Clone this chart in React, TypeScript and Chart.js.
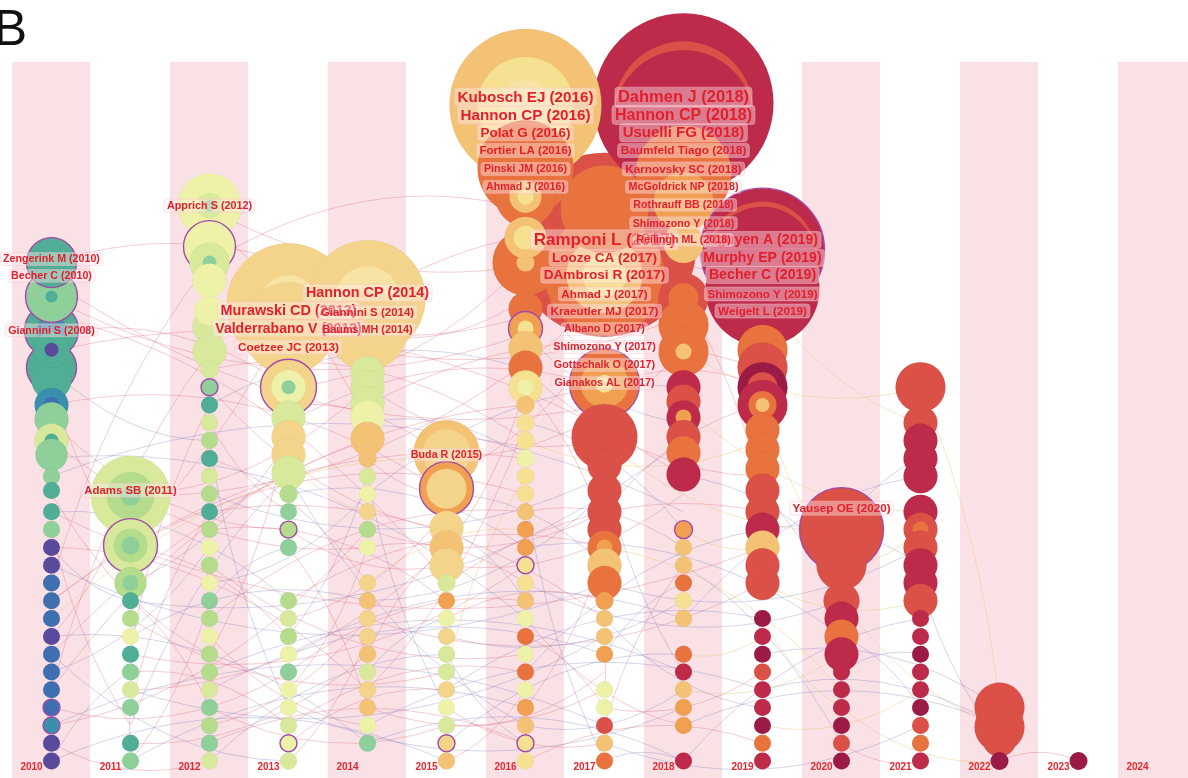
import React, { useEffect, useRef } from 'react';
import { Chart, registerables } from 'chart.js';

Chart.register(...registerables);

// ---------- data ----------
const years = [2010, 2011, 2012, 2013, 2014, 2015, 2016, 2017, 2018, 2019, 2020, 2021, 2022, 2023, 2024];
const yearTickLabels = years.map(String);
const bandYears = [2010, 2012, 2014, 2016, 2018, 2020, 2022, 2024];

const palette: Record<string, string> = {
  P: '#5a4a9c', B: '#3f6eb1', T: '#3a8fae', G: '#4fae95', g: '#8ecf9a', l: '#b5dc8c',
  y: '#d8e99c', w: '#eef2a8', Y: '#f6e092', k: '#f7e4a4', K: '#f4d48a', o: '#f3c274',
  O: '#f0a050', R: '#e8733f', r: '#db5148', C: '#bd2a4a', D: '#9c1a46',
};

type Node = { row: number; r: number; c: string; ring?: boolean; inner?: [number, string][] };

const nodes2010: Node[] = [
  { row: 28, r: 25, c: 'G', ring: true },
  { row: 26.1, r: 26, c: 'g', ring: true, inner: [[6, 'G']] },
  { row: 24.2, r: 27, c: 'G', ring: true, inner: [[15, 'T']] },
  { row: 23.1, r: 18, c: 'G', inner: [[7, 'P']] },
  { row: 22.1, r: 25, c: 'G', ring: true },
  { row: 21.4, r: 20, c: 'G' },
  { row: 20, r: 17, c: 'T', inner: [[8, 'B']] },
  { row: 19.2, r: 17, c: 'g' },
  { row: 18, r: 17, c: 'y', inner: [[7, 'G']] },
  { row: 17.2, r: 16, c: 'g' },
  { row: 16, r: 8.5, c: 'g' }, { row: 15.2, r: 8.5, c: 'G' }, { row: 14, r: 8.5, c: 'G' },
  { row: 13, r: 8.5, c: 'g' }, { row: 12, r: 8.5, c: 'P' }, { row: 11, r: 8.5, c: 'P' },
  { row: 10, r: 8.5, c: 'B' }, { row: 9, r: 8.5, c: 'B' }, { row: 8, r: 8.5, c: 'B' },
  { row: 7, r: 8.5, c: 'P' }, { row: 6, r: 8.5, c: 'B' }, { row: 5, r: 8.5, c: 'B' },
  { row: 4, r: 8.5, c: 'B' }, { row: 3, r: 8.5, c: 'B', ring: true }, { row: 2, r: 8.5, c: 'T', ring: true },
  { row: 1, r: 8.5, c: 'P' }, { row: 0, r: 8.5, c: 'P' },
];

const nodes2011: Node[] = [
  { row: 14.9, r: 40, c: 'y', inner: [[24, 'l'], [10, 'g']] },
  { row: 12.1, r: 27, c: 'y', ring: true, inner: [[17, 'l'], [9, 'g']] },
  { row: 10, r: 16, c: 'l', inner: [[8, 'g']] },
  { row: 9, r: 8.5, c: 'G' }, { row: 8, r: 8.5, c: 'l' }, { row: 7, r: 8.5, c: 'w' },
  { row: 6, r: 8.5, c: 'G' }, { row: 5, r: 8.5, c: 'g' }, { row: 4, r: 8.5, c: 'y' },
  { row: 3, r: 8.5, c: 'g' }, { row: 1, r: 8.5, c: 'G' }, { row: 0, r: 8.5, c: 'g' },
];

const nodes2012: Node[] = [
  { row: 31.2, r: 32, c: 'w', inner: [[13, 'y'], [6, 'g']] },
  { row: 28.9, r: 26, c: 'w', ring: true },
  { row: 28, r: 20, c: 'y', inner: [[7, 'g']] },
  { row: 27, r: 17, c: 'w' }, { row: 25.3, r: 15, c: 'w' }, { row: 24.4, r: 17, c: 'y' },
  { row: 23, r: 17, c: 'y' }, { row: 22, r: 9, c: 'y' }, { row: 21, r: 8.5, c: 'g', ring: true },
  { row: 20, r: 8.5, c: 'G' }, { row: 19, r: 8.5, c: 'y' }, { row: 18, r: 8.5, c: 'l' },
  { row: 17, r: 8.5, c: 'G' }, { row: 16, r: 8.5, c: 'y' }, { row: 15, r: 8.5, c: 'l' },
  { row: 14, r: 8.5, c: 'G' }, { row: 13, r: 8.5, c: 'l' }, { row: 12, r: 8.5, c: 'w' },
  { row: 11, r: 8.5, c: 'l' }, { row: 10, r: 8.5, c: 'w' }, { row: 9, r: 8.5, c: 'g' },
  { row: 8, r: 8.5, c: 'l' }, { row: 7, r: 8.5, c: 'w' }, { row: 6, r: 8.5, c: 'l' },
  { row: 5, r: 8.5, c: 'l' }, { row: 4, r: 8.5, c: 'y' }, { row: 3, r: 8.5, c: 'g' },
  { row: 2, r: 8.5, c: 'l' }, { row: 1, r: 8.5, c: 'g' }, { row: 0, r: 8.5, c: 'y' },
];

const nodes2013: Node[] = [
  { row: 25.6, r: 62, c: 'K', inner: [[30, 'k']] },
  { row: 24.3, r: 46, c: 'K' },
  { row: 21, r: 28, c: 'K', ring: true, inner: [[17, 'w'], [7, 'g']] },
  { row: 19.3, r: 17, c: 'y' }, { row: 18.2, r: 17, c: 'K' }, { row: 17.2, r: 17, c: 'K' },
  { row: 16.2, r: 17, c: 'y' }, { row: 15, r: 9, c: 'l' }, { row: 14, r: 8.5, c: 'g' },
  { row: 13, r: 8.5, c: 'l', ring: true }, { row: 12, r: 8.5, c: 'g' },
  { row: 9, r: 8.5, c: 'l' }, { row: 8, r: 8.5, c: 'y' }, { row: 7, r: 8.5, c: 'l' },
  { row: 6, r: 8.5, c: 'w' }, { row: 5, r: 8.5, c: 'g' }, { row: 4, r: 8.5, c: 'w' },
  { row: 3, r: 8.5, c: 'w' }, { row: 2, r: 8.5, c: 'y' }, { row: 1, r: 8.5, c: 'w', ring: true },
  { row: 0, r: 8.5, c: 'y' },
];

const nodes2014: Node[] = [
  { row: 26, r: 58, c: 'K', inner: [[32, 'k']] },
  { row: 24.2, r: 40, c: 'K' },
  { row: 21.8, r: 17, c: 'y' }, { row: 21, r: 17, c: 'y' }, { row: 20.1, r: 17, c: 'y' },
  { row: 19.3, r: 17, c: 'w' }, { row: 18.1, r: 17, c: 'o' }, { row: 17, r: 9, c: 'o' },
  { row: 16, r: 8.5, c: 'y' }, { row: 15, r: 8.5, c: 'w' }, { row: 14, r: 8.5, c: 'K' },
  { row: 13, r: 8.5, c: 'l' }, { row: 12, r: 8.5, c: 'w' }, { row: 10, r: 8.5, c: 'K' },
  { row: 9, r: 8.5, c: 'o' }, { row: 8, r: 8.5, c: 'K' }, { row: 7, r: 8.5, c: 'K' },
  { row: 6, r: 8.5, c: 'o' }, { row: 5, r: 8.5, c: 'y' }, { row: 4, r: 8.5, c: 'K' },
  { row: 3, r: 8.5, c: 'o' }, { row: 2, r: 8.5, c: 'w' }, { row: 1, r: 8.5, c: 'g' },
];

const nodes2015: Node[] = [
  { row: 17.3, r: 33, c: 'o', inner: [[24, 'K']] },
  { row: 15.3, r: 27, c: 'O', ring: true, inner: [[20, 'K']] },
  { row: 13.1, r: 17, c: 'K' }, { row: 12, r: 17, c: 'o' }, { row: 11, r: 17, c: 'K' },
  { row: 10, r: 9, c: 'y' }, { row: 9, r: 8.5, c: 'O' }, { row: 8, r: 8.5, c: 'w' },
  { row: 7, r: 8.5, c: 'K' }, { row: 6, r: 8.5, c: 'y' }, { row: 5, r: 8.5, c: 'y' },
  { row: 4, r: 8.5, c: 'K' }, { row: 3, r: 8.5, c: 'w' }, { row: 2, r: 8.5, c: 'y' },
  { row: 1, r: 8.5, c: 'K', ring: true }, { row: 0, r: 8.5, c: 'o' },
];

const nodes2016: Node[] = [
  { row: 36.85, r: 76, c: 'o', inner: [[48, 'Y'], [26, 'k']] },
  { row: 33.3, r: 48, c: 'R' },
  { row: 31.7, r: 30, c: 'R', inner: [[16, 'o'], [8, 'Y']] },
  { row: 29.4, r: 21, c: 'o', inner: [[12, 'Y']] },
  { row: 28, r: 33, c: 'R', inner: [[9, 'o']] },
  { row: 25.4, r: 17, c: 'R' },
  { row: 24.3, r: 17, c: 'O', ring: true, inner: [[8, 'Y']] },
  { row: 23.2, r: 17, c: 'o' }, { row: 22.1, r: 17, c: 'R' },
  { row: 21, r: 17, c: 'Y', inner: [[8, 'w']] },
  { row: 20, r: 9, c: 'o' }, { row: 19, r: 9, c: 'Y' }, { row: 18, r: 9, c: 'Y' },
  { row: 17, r: 9, c: 'w' }, { row: 16, r: 8.5, c: 'Y' }, { row: 15, r: 8.5, c: 'Y' },
  { row: 14, r: 8.5, c: 'o' }, { row: 13, r: 8.5, c: 'O' }, { row: 12, r: 8.5, c: 'O' },
  { row: 11, r: 8.5, c: 'Y', ring: true }, { row: 10, r: 8.5, c: 'Y' }, { row: 9, r: 8.5, c: 'o' },
  { row: 8, r: 8.5, c: 'w' }, { row: 7, r: 8.5, c: 'R' }, { row: 6, r: 8.5, c: 'w' },
  { row: 5, r: 8.5, c: 'R' }, { row: 4, r: 8.5, c: 'w' }, { row: 3, r: 8.5, c: 'O' },
  { row: 2, r: 8.5, c: 'o' }, { row: 1, r: 8.5, c: 'Y', ring: true }, { row: 0, r: 8.5, c: 'Y' },
];

const nodes2017: Node[] = [
  { row: 29, r: 92, c: 'r' },
  { row: 31, r: 44, c: 'R' },
  { row: 27.3, r: 60, c: 'R', inner: [[38, 'o'], [22, 'Y']] },
  { row: 21.2, r: 35, c: 'R', ring: true, inner: [[24, 'O'], [9, 'Y']] },
  { row: 18.2, r: 33, c: 'r' },
  { row: 16.6, r: 17, c: 'r' }, { row: 15.2, r: 17, c: 'r' }, { row: 14, r: 17, c: 'r' },
  { row: 13, r: 17, c: 'r' }, { row: 12, r: 17, c: 'R', inner: [[8, 'O']] },
  { row: 11, r: 17, c: 'o' }, { row: 10, r: 17, c: 'R' },
  { row: 9, r: 9, c: 'O' }, { row: 8, r: 8.5, c: 'o' }, { row: 7, r: 8.5, c: 'o' },
  { row: 6, r: 8.5, c: 'O' }, { row: 4, r: 8.5, c: 'w' }, { row: 3, r: 8.5, c: 'w' },
  { row: 2, r: 8.5, c: 'r' }, { row: 1, r: 8.5, c: 'o' }, { row: 0, r: 8.5, c: 'R' },
];

const nodes2018: Node[] = [
  { row: 36.95, r: 90, c: 'C' },
  { row: 36.5, r: 70, c: 'r' },
  { row: 36.0, r: 70, c: 'C' },
  { row: 33, r: 48, c: 'R' },
  { row: 31.4, r: 30, c: 'O' },
  { row: 29.1, r: 20, c: 'o' },
  { row: 26, r: 25, c: 'r', inner: [[15, 'R']] },
  { row: 24.5, r: 25, c: 'R' },
  { row: 23, r: 25, c: 'R', inner: [[8, 'o']] },
  { row: 21, r: 17, c: 'C' }, { row: 20.2, r: 17, c: 'r' },
  { row: 19.3, r: 17, c: 'C', inner: [[8, 'O']] },
  { row: 18.2, r: 17, c: 'r' }, { row: 17.3, r: 17, c: 'R' }, { row: 16.1, r: 17, c: 'C' },
  { row: 13, r: 9, c: 'O', ring: true }, { row: 12, r: 8.5, c: 'o' }, { row: 11, r: 8.5, c: 'o' },
  { row: 10, r: 8.5, c: 'R' }, { row: 9, r: 8.5, c: 'Y' }, { row: 8, r: 8.5, c: 'o' },
  { row: 6, r: 8.5, c: 'R' }, { row: 5, r: 8.5, c: 'C' }, { row: 4, r: 8.5, c: 'o' },
  { row: 3, r: 8.5, c: 'O' }, { row: 2, r: 8.5, c: 'O' }, { row: 0, r: 8.5, c: 'C' },
];

const nodes2019: Node[] = [
  { row: 28.7, r: 62, c: 'C', ring: true },
  { row: 28.4, r: 54, c: 'r' },
  { row: 28.1, r: 54, c: 'C' },
  { row: 26.5, r: 57, c: 'C' },
  { row: 23.1, r: 25, c: 'R' },
  { row: 22.1, r: 25, c: 'r' },
  { row: 21, r: 25, c: 'D', inner: [[15, 'r']] },
  { row: 20, r: 25, c: 'C', inner: [[14, 'R'], [7, 'o']] },
  { row: 18.6, r: 17, c: 'R' }, { row: 17.5, r: 17, c: 'R' }, { row: 16.4, r: 17, c: 'R' },
  { row: 15.2, r: 17, c: 'r' }, { row: 14, r: 17, c: 'r' }, { row: 13, r: 17, c: 'C' },
  { row: 12, r: 17, c: 'o' }, { row: 11, r: 17, c: 'r' }, { row: 10, r: 17, c: 'r' },
  { row: 8, r: 8.5, c: 'D' }, { row: 7, r: 8.5, c: 'C' }, { row: 6, r: 8.5, c: 'D' },
  { row: 5, r: 8.5, c: 'r' }, { row: 4, r: 8.5, c: 'C' }, { row: 3, r: 8.5, c: 'C' },
  { row: 2, r: 8.5, c: 'D' }, { row: 1, r: 8.5, c: 'R' }, { row: 0, r: 8.5, c: 'C' },
];

const nodes2020: Node[] = [
  { row: 13, r: 42, c: 'r', ring: true, inner: [[26, 'r']] },
  { row: 11, r: 25, c: 'r' },
  { row: 9, r: 18, c: 'r' }, { row: 8, r: 17, c: 'C' }, { row: 7, r: 17, c: 'R' },
  { row: 6, r: 17, c: 'C' }, { row: 5, r: 8.5, c: 'C' }, { row: 4, r: 8.5, c: 'C' },
  { row: 3, r: 8.5, c: 'C' }, { row: 2, r: 8.5, c: 'D' }, { row: 1, r: 8.5, c: 'r' },
  { row: 0, r: 8.5, c: 'D' },
];

const nodes2021: Node[] = [
  { row: 21, r: 25, c: 'r' },
  { row: 19, r: 17, c: 'r' }, { row: 18, r: 17, c: 'C' }, { row: 17, r: 17, c: 'C' },
  { row: 16, r: 17, c: 'C' }, { row: 14, r: 17, c: 'C' },
  { row: 13, r: 17, c: 'r', inner: [[8, 'R']] }, { row: 12, r: 17, c: 'r' },
  { row: 11, r: 17, c: 'C' }, { row: 10, r: 17, c: 'C' }, { row: 9, r: 17, c: 'r' },
  { row: 8, r: 8.5, c: 'C' }, { row: 7, r: 8.5, c: 'C' }, { row: 6, r: 8.5, c: 'D' },
  { row: 5, r: 8.5, c: 'C' }, { row: 4, r: 8.5, c: 'C' }, { row: 3, r: 8.5, c: 'D' },
  { row: 2, r: 8.5, c: 'r' }, { row: 1, r: 8.5, c: 'R' }, { row: 0, r: 8.5, c: 'C' },
];

const nodes2022: Node[] = [
  { row: 3, r: 25, c: 'r' }, { row: 1.9, r: 25, c: 'r' }, { row: 1.2, r: 17, c: 'r' },
  { row: 0, r: 9, c: 'D' },
];

const nodes2023: Node[] = [{ row: 0, r: 9, c: 'D' }];

const nodesByYear: [number, Node[]][] = [
  [2010, nodes2010], [2011, nodes2011], [2012, nodes2012], [2013, nodes2013],
  [2014, nodes2014], [2015, nodes2015], [2016, nodes2016], [2017, nodes2017],
  [2018, nodes2018], [2019, nodes2019], [2020, nodes2020], [2021, nodes2021],
  [2022, nodes2022], [2023, nodes2023],
];

// label: [text, year, row, fontSize]
type Label = [string, number, number, number];
const labels2010: Label[] = [
  ['Zengerink M (2010)', 2010, 28.2, 10.7],
  ['Becher C (2010)', 2010, 27.25, 10.7],
  ['Giannini S (2008)', 2010, 24.2, 10.7],
];
const labels2011: Label[] = [['Adams SB (2011)', 2011, 15.2, 11.4]];
const labels2012: Label[] = [['Apprich S (2012)', 2012, 31.2, 10.8]];
const labels2013: Label[] = [
  ['Murawski CD (2013)', 2013, 25.3, 14.4],
  ['Valderrabano V (2013)', 2013, 24.3, 14],
  ['Coetzee JC (2013)', 2013, 23.25, 11.8],
];
const labels2014: Label[] = [
  ['Hannon CP (2014)', 2014, 26.3, 14.4],
  ['Giannini S (2014)', 2014, 25.2, 11.5],
  ['Baums MH (2014)', 2014, 24.25, 10.8],
];
const labels2015: Label[] = [['Buda R (2015)', 2015, 17.2, 10.7]];
const labels2016: Label[] = [
  ['Kubosch EJ (2016)', 2016, 37.3, 15.2],
  ['Hannon CP (2016)', 2016, 36.3, 15.2],
  ['Polat G (2016)', 2016, 35.3, 13.5],
  ['Fortier LA (2016)', 2016, 34.3, 11.6],
  ['Pinski JM (2016)', 2016, 33.26, 10.7],
  ['Ahmad J (2016)', 2016, 32.25, 10.7],
];
const labels2017: Label[] = [
  ['Ramponi L (2017)', 2017, 29.27, 17],
  ['Looze CA (2017)', 2017, 28.26, 13.5],
  ['DAmbrosi R (2017)', 2017, 27.3, 13.6],
  ['Ahmad J (2017)', 2017, 26.24, 11.7],
  ['Kraeutler MJ (2017)', 2017, 25.28, 11.7],
  ['Albano D (2017)', 2017, 24.27, 10.7],
  ['Shimozono Y (2017)', 2017, 23.26, 10.8],
  ['Gottschalk O (2017)', 2017, 22.25, 10.8],
  ['Gianakos AL (2017)', 2017, 21.24, 10.8],
];
const labels2019: Label[] = [
  ['Nguyen A (2019)', 2019, 29.27, 14.2],
  ['Murphy EP (2019)', 2019, 28.26, 14.1],
  ['Becher C (2019)', 2019, 27.3, 14.2],
  ['Shimozono Y (2019)', 2019, 26.24, 11.6],
  ['Weigelt L (2019)', 2019, 25.28, 11.7],
];
const labels2020: Label[] = [['Yausep OE (2020)', 2020, 14.2, 11.7]];
const labels2018: Label[] = [
  ['Dahmen J (2018)', 2018, 37.3, 16.5],
  ['Hannon CP (2018)', 2018, 36.3, 16],
  ['Usuelli FG (2018)', 2018, 35.3, 15],
  ['Baumfeld Tiago (2018)', 2018, 34.3, 11.8],
  ['Karnovsky SC (2018)', 2018, 33.26, 11.7],
  ['McGoldrick NP (2018)', 2018, 32.25, 10.7],
  ['Rothrauff BB (2018)', 2018, 31.24, 10.7],
  ['Shimozono Y (2018)', 2018, 30.22, 10.7],
  ['Reilingh ML (2018)', 2018, 29.27, 10.7],
];
const allLabels: Label[] = [
  ...labels2010, ...labels2011, ...labels2012, ...labels2013, ...labels2014, ...labels2015,
  ...labels2016, ...labels2017, ...labels2019, ...labels2020, ...labels2018,
];

// links: [fromYear, fromRow, toYear, toRow, colourKey]
type Link = [number, number, number, number, string];
const links: Link[] = [
  [2010, 28, 2014, 26, 'p'], [2010, 26, 2016, 24, 'p'], [2010, 24, 2013, 21, 'p'], [2010, 22, 2012, 18, 'b'],
  [2010, 20, 2015, 15, 'p'], [2010, 18, 2014, 12, 'p'], [2010, 17, 2016, 8, 'b'], [2010, 15, 2012, 6, 'p'],
  [2010, 14, 2013, 9, 'b'], [2010, 13, 2011, 2, 'p'], [2010, 12, 2014, 4, 'p'], [2010, 11, 2017, 10, 'b'],
  [2010, 10, 2012, 28, 'p'], [2010, 9, 2013, 25, 'p'], [2010, 8, 2015, 17, 'y'], [2010, 7, 2011, 15, 'p'],
  [2010, 6, 2016, 20, 'p'], [2010, 5, 2012, 12, 'b'], [2010, 4, 2014, 18, 'p'], [2010, 3, 2013, 5, 'p'],
  [2010, 2, 2017, 2, 'b'], [2010, 1, 2012, 0, 'p'], [2010, 0, 2015, 0, 'b'], [2010, 21, 2011, 12, 'p'],
  [2010, 23, 2018, 16, 'p'], [2011, 15, 2014, 21, 'p'], [2011, 12, 2016, 15, 'p'], [2011, 10, 2013, 18, 'b'],
  [2011, 9, 2012, 3, 'p'], [2011, 8, 2015, 5, 'p'], [2011, 7, 2014, 9, 'b'], [2011, 6, 2016, 11, 'p'],
  [2011, 5, 2013, 2, 'p'], [2011, 4, 2017, 7, 'b'], [2011, 3, 2012, 14, 'p'], [2011, 1, 2014, 6, 'p'],
  [2011, 0, 2016, 3, 'b'], [2012, 31, 2017, 29, 'p'], [2012, 28, 2016, 31, 'p'], [2012, 25, 2014, 24, 'p'],
  [2012, 23, 2013, 25, 'y'], [2012, 21, 2015, 13, 'p'], [2012, 20, 2016, 22, 'b'], [2012, 19, 2013, 14, 'p'],
  [2012, 17, 2014, 10, 'p'], [2012, 15, 2017, 16, 'b'], [2012, 13, 2015, 9, 'p'], [2012, 11, 2016, 6, 'p'],
  [2012, 9, 2013, 12, 'b'], [2012, 7, 2014, 2, 'p'], [2012, 5, 2018, 5, 'b'], [2012, 3, 2015, 2, 'p'],
  [2012, 1, 2016, 1, 'p'], [2013, 21, 2016, 28, 'p'], [2013, 19, 2017, 21, 'p'], [2013, 17, 2014, 14, 'y'],
  [2013, 15, 2016, 12, 'b'], [2013, 13, 2015, 11, 'p'], [2013, 9, 2017, 12, 'p'], [2013, 7, 2014, 16, 'b'],
  [2013, 5, 2016, 9, 'p'], [2013, 3, 2018, 3, 'b'], [2013, 1, 2015, 4, 'p'], [2013, 0, 2014, 7, 'p'],
  [2014, 26, 2018, 29, 'p'], [2014, 21, 2017, 18, 'p'], [2014, 19, 2016, 17, 'b'], [2014, 17, 2015, 15, 'p'],
  [2014, 15, 2018, 21, 'b'], [2014, 13, 2017, 14, 'p'], [2014, 10, 2016, 13, 'y'], [2014, 8, 2019, 10, 'p'],
  [2014, 5, 2015, 8, 'b'], [2014, 3, 2017, 4, 'p'], [2014, 1, 2018, 0, 'b'], [2015, 17, 2018, 23, 'p'],
  [2015, 15, 2017, 11, 'b'], [2015, 12, 2016, 21, 'p'], [2015, 10, 2019, 14, 'p'], [2015, 7, 2018, 9, 'b'],
  [2015, 5, 2016, 16, 'y'], [2015, 3, 2017, 1, 'p'], [2015, 1, 2018, 6, 'b'], [2015, 0, 2016, 4, 'p'],
  [2016, 28, 2019, 26, 'p'], [2016, 24, 2018, 19, 'b'], [2016, 21, 2017, 13, 'p'], [2016, 18, 2019, 18, 'y'],
  [2016, 14, 2018, 12, 'p'], [2016, 10, 2020, 9, 'b'], [2016, 7, 2017, 3, 'p'], [2016, 2, 2018, 4, 'b'],
  [2016, 0, 2019, 1, 'p'], [2017, 18, 2020, 13, 'y'], [2017, 14, 2019, 20, 'p'], [2017, 10, 2021, 12, 'b'],
  [2017, 6, 2018, 10, 'b'], [2017, 3, 2019, 5, 'p'], [2017, 0, 2018, 0, 'b'], [2018, 23, 2021, 21, 'y'],
  [2018, 16, 2020, 11, 'b'], [2018, 13, 2019, 12, 'y'], [2018, 8, 2021, 16, 'b'], [2018, 4, 2020, 6, 'y'],
  [2018, 2, 2022, 2, 'b'], [2019, 26, 2021, 19, 'y'], [2019, 15, 2020, 8, 'b'], [2019, 10, 2021, 9, 'y'],
  [2019, 6, 2022, 3, 'b'], [2019, 2, 2021, 4, 'y'], [2020, 13, 2021, 17, 'b'], [2020, 9, 2022, 2, 'y'],
  [2020, 5, 2021, 6, 'b'], [2020, 1, 2021, 0, 'p'], [2022, 0, 2023, 0, 'p'], [2011, 3, 2011, 1, 'p'],
  [2017, 6, 2017, 4, 'p'],
  [2010, 27, 2017, 20, 'p'], [2010, 25, 2015, 10, 'p'], [2010, 19, 2013, 13, 'p'], [2010, 16, 2018, 14, 'b'],
  [2010, 12, 2011, 9, 'b'], [2010, 9, 2016, 17, 'p'], [2010, 6, 2013, 0, 'b'], [2010, 4, 2012, 23, 'p'],
  [2010, 2, 2014, 13, 'p'], [2010, 0, 2011, 5, 'b'], [2010, 14, 2019, 12, 'p'], [2010, 7, 2014, 1, 'b'],
  [2011, 14.9, 2017, 26, 'p'], [2011, 12, 2013, 7, 'p'], [2011, 9, 2018, 18, 'b'], [2011, 6, 2012, 20, 'p'],
  [2011, 4, 2015, 12, 'p'], [2011, 2, 2013, 16, 'b'], [2011, 0, 2012, 9, 'p'], [2012, 30, 2014, 19, 'p'],
  [2012, 26, 2018, 25, 'p'], [2012, 22, 2016, 18, 'p'], [2012, 18, 2013, 3, 'b'], [2012, 14, 2017, 8, 'p'],
  [2012, 10, 2014, 15, 'b'], [2012, 8, 2016, 14, 'p'], [2012, 6, 2013, 19, 'p'], [2012, 4, 2017, 6, 'b'],
  [2012, 2, 2014, 8, 'p'], [2012, 0, 2015, 6, 'b'], [2013, 25, 2017, 27, 'p'], [2013, 20, 2015, 17, 'p'],
  [2013, 16, 2016, 2, 'b'], [2013, 12, 2014, 3, 'p'], [2013, 8, 2015, 14, 'p'], [2013, 6, 2018, 8, 'b'],
  [2013, 4, 2014, 12, 'p'], [2013, 2, 2016, 5, 'p'], [2014, 24, 2016, 26, 'p'], [2014, 20, 2019, 22, 'p'],
  [2014, 16, 2015, 3, 'b'], [2014, 12, 2016, 10, 'p'], [2014, 9, 2017, 15, 'b'], [2014, 6, 2015, 12, 'p'],
  [2014, 4, 2016, 19, 'p'], [2014, 2, 2019, 4, 'b'], [2015, 16, 2017, 24, 'p'], [2015, 13, 2016, 9, 'b'],
  [2015, 11, 2018, 15, 'p'], [2015, 8, 2017, 9, 'p'], [2015, 6, 2016, 1, 'b'], [2015, 4, 2019, 8, 'b'],
  [2015, 2, 2017, 5, 'p'], [2016, 26, 2017, 21, 'p'], [2016, 22, 2019, 16, 'p'], [2016, 19, 2018, 13, 'b'],
  [2016, 15, 2017, 0, 'b'], [2016, 12, 2020, 7, 'b'], [2016, 8, 2018, 2, 'p'], [2016, 5, 2019, 13, 'b'],
  [2016, 3, 2017, 12, 'p'], [2017, 21, 2019, 21, 'p'], [2017, 16, 2018, 5, 'b'], [2017, 12, 2020, 4, 'y'],
  [2017, 8, 2019, 3, 'b'], [2017, 2, 2018, 11, 'p'], [2017, 1, 2021, 2, 'b'], [2018, 26, 2019, 15, 'p'],
  [2018, 20, 2021, 14, 'y'], [2018, 11, 2020, 1, 'b'], [2018, 6, 2019, 7, 'y'], [2018, 0, 2021, 8, 'b'],
  [2019, 20, 2020, 11, 'y'], [2019, 13, 2021, 11, 'b'], [2019, 8, 2020, 3, 'y'], [2019, 4, 2022, 1.9, 'b'],
  [2020, 11, 2021, 13, 'y'], [2020, 7, 2021, 3, 'b'], [2020, 3, 2022, 0, 'y'], [2021, 21, 2022, 3, 'y'],
  [2021, 10, 2022, 1.2, 'b'],
];

const linkColors: Record<string, string> = {
  p: 'rgba(224,96,118,0.36)', b: 'rgba(104,112,190,0.32)', y: 'rgba(236,196,110,0.45)', g: 'rgba(110,190,150,0.35)',
};

// ---------- geometry of the layout ----------
const ROW_PX = 17.8;
const X_MIN = 2009.5;
const X_MAX = 2009.5 + 1176 / 79;
const Y_MIN = -17 / ROW_PX;
const Y_MAX = (761 - 62) / ROW_PX;

function buildPoints() {
  const flat = nodesByYear.flatMap(([yr, arr]) => arr.map((n) => ({ yr, n })));
  flat.sort((a, b) => b.n.r - a.n.r);
  const pts: { x: number; y: number; r: number }[] = [];
  const bg: string[] = [];
  const bc: string[] = [];
  const bw: number[] = [];
  for (const { yr, n } of flat) {
    pts.push({ x: yr, y: n.row, r: n.r });
    bg.push(palette[n.c]);
    bc.push(n.ring ? '#a24aa6' : 'rgba(0,0,0,0.06)');
    bw.push(n.ring ? 1.4 : 0.6);
    for (const [ir, ic] of n.inner || []) {
      pts.push({ x: yr, y: n.row, r: ir });
      bg.push(palette[ic]);
      bc.push('rgba(0,0,0,0)');
      bw.push(0);
    }
  }
  return { pts, bg, bc, bw };
}

const backgroundPlugin = {
  id: 'bgBandsLinks',
  beforeDatasetsDraw(chart: any) {
    const { ctx, chartArea, scales } = chart;
    const xs = scales.x;
    const ys = scales.y;
    ctx.save();
    ctx.fillStyle = '#f9e1e6';
    for (const yr of bandYears) {
      const x0 = xs.getPixelForValue(yr - 0.5);
      const x1 = xs.getPixelForValue(yr + 0.487);
      ctx.fillRect(x0, chartArea.top, x1 - x0, chartArea.bottom - chartArea.top);
    }
    ctx.lineWidth = 0.9;
    links.forEach(([y1, r1, y2, r2, c], i) => {
      const ax = xs.getPixelForValue(y1);
      const ay = ys.getPixelForValue(r1);
      const bx = xs.getPixelForValue(y2);
      const by = ys.getPixelForValue(r2);
      const dx = bx - ax;
      const dy = by - ay;
      const s = (i % 2 ? 1 : -1) * 0.22;
      const cx = (ax + bx) / 2 - dy * s * 0.3;
      const cy = (ay + by) / 2 + dx * s;
      ctx.strokeStyle = linkColors[c];
      ctx.beginPath();
      ctx.moveTo(ax, ay);
      ctx.quadraticCurveTo(cx, cy, bx, by);
      ctx.stroke();
    });
    ctx.restore();
  },
};

function roundRect(ctx: CanvasRenderingContext2D, x: number, y: number, w: number, h: number, r: number) {
  ctx.beginPath();
  ctx.moveTo(x + r, y);
  ctx.lineTo(x + w - r, y);
  ctx.quadraticCurveTo(x + w, y, x + w, y + r);
  ctx.lineTo(x + w, y + h - r);
  ctx.quadraticCurveTo(x + w, y + h, x + w - r, y + h);
  ctx.lineTo(x + r, y + h);
  ctx.quadraticCurveTo(x, y + h, x, y + h - r);
  ctx.lineTo(x, y + r);
  ctx.quadraticCurveTo(x, y, x + r, y);
  ctx.closePath();
}

const labelPlugin = {
  id: 'textLabels',
  afterDatasetsDraw(chart: any) {
    const { ctx, scales } = chart;
    const xs = scales.x;
    const ys = scales.y;
    ctx.save();
    ctx.textAlign = 'center';
    ctx.textBaseline = 'middle';
    for (const [text, yr, row, size] of allLabels) {
      const px = xs.getPixelForValue(yr);
      const py = ys.getPixelForValue(row);
      ctx.font = `bold ${size}px "Liberation Sans", Arial, sans-serif`;
      const w = ctx.measureText(text).width;
      const h = size * 1.2;
      roundRect(ctx, px - w / 2 - 3, py - h / 2, w + 6, h, 3);
      ctx.fillStyle = 'rgba(255,238,240,0.42)';
      ctx.fill();
      ctx.strokeStyle = 'rgba(255,190,200,0.55)';
      ctx.lineWidth = 0.8;
      ctx.stroke();
      ctx.fillStyle = '#e41f2d';
      ctx.fillText(text, px, py + 0.5);
    }
    // year tick labels at the bottom
    ctx.font = 'bold 10px "Liberation Sans", Arial, sans-serif';
    ctx.fillStyle = '#e8262e';
    years.forEach((yr, i) => {
      ctx.fillText(yearTickLabels[i], xs.getPixelForValue(yr - 0.253), ys.getPixelForValue(-0.37));
    });
    // panel letter
    ctx.font = '400 50px "Liberation Sans", Arial, sans-serif';
    ctx.fillStyle = '#111';
    ctx.textAlign = 'left';
    ctx.textBaseline = 'alphabetic';
    const bw = ctx.measureText('B').width;
    ctx.fillText('B', 27 - bw, 45);
    ctx.restore();
  },
};

const App = () => {
  const ref = useRef<HTMLCanvasElement>(null);
  useEffect(() => {
    document.body.style.margin = '0';
    const canvas = ref.current;
    if (!canvas) return;
    const { pts, bg, bc, bw } = buildPoints();
    const chart = new Chart(canvas, {
      type: 'bubble',
      data: {
        datasets: [
          {
            data: pts,
            backgroundColor: bg,
            borderColor: bc,
            borderWidth: bw,
            hoverRadius: 0,
            clip: false as any,
          } as any,
        ],
      },
      options: {
        animation: false,
        responsive: false,
        maintainAspectRatio: false,
        devicePixelRatio: 1,
        events: [],
        layout: { autoPadding: false, padding: { left: 12, top: 62, right: 0, bottom: 0 } },
        plugins: { legend: { display: false }, tooltip: { enabled: false }, title: { display: false } },
        scales: {
          x: { type: 'linear', min: X_MIN, max: X_MAX, display: false },
          y: { type: 'linear', min: Y_MIN, max: Y_MAX, display: false },
        },
      } as any,
      plugins: [backgroundPlugin, labelPlugin],
    });
    return () => chart.destroy();
  }, []);
  return (
    <div style={{ width: 1188, height: 778, background: '#fff' }}>
      <canvas ref={ref} width={1188} height={778} style={{ display: 'block' }} />
    </div>
  );
};

export default App;
